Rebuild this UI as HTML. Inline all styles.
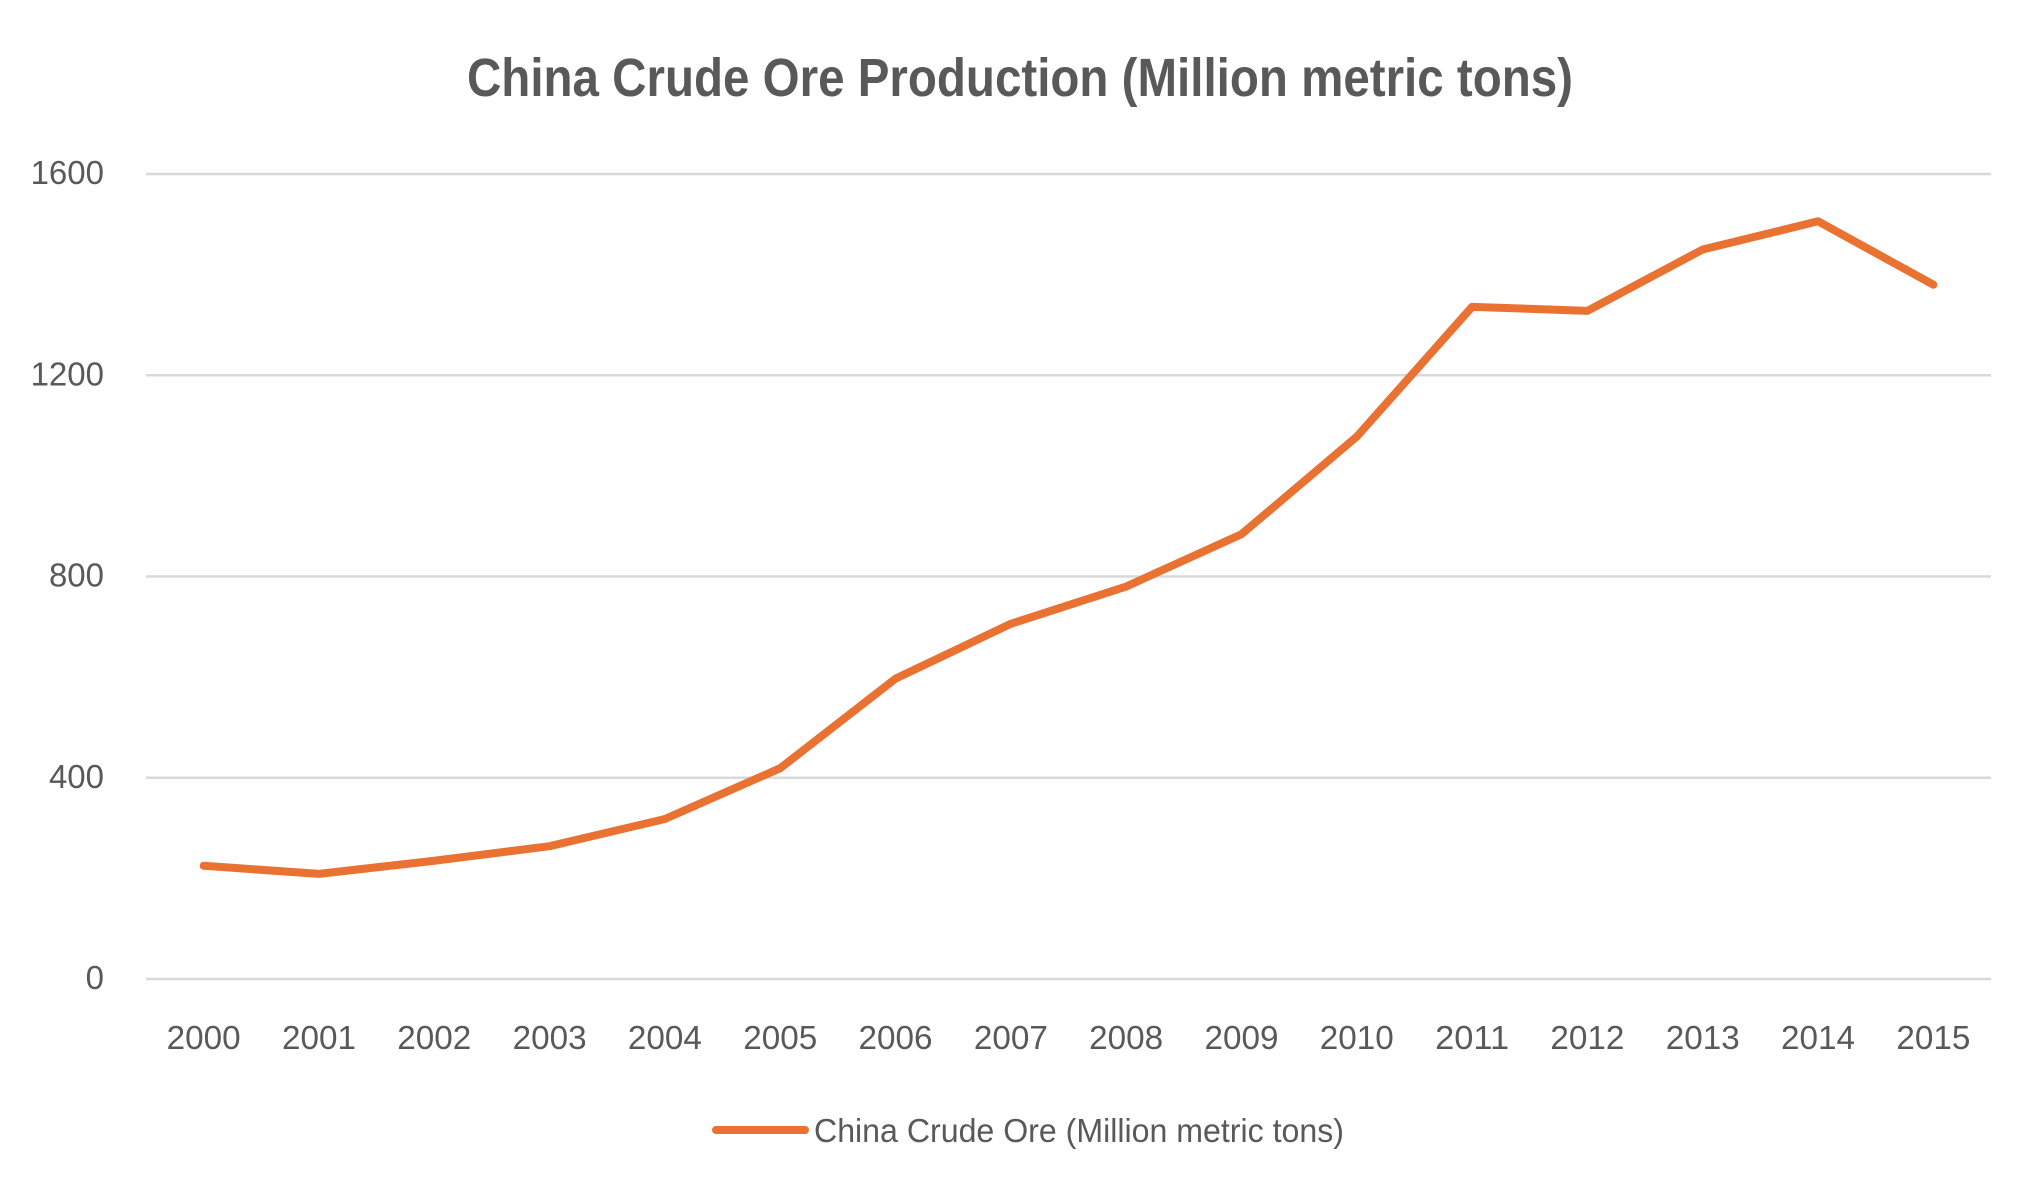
<!DOCTYPE html>
<html><head><meta charset="utf-8"><style>
html,body{margin:0;padding:0;background:#fff;}
svg{display:block;}
text{font-family:"Liberation Sans Narrow","Liberation Sans",sans-serif;fill:#595959;}
</style></head><body>
<svg id="chart" width="2039" height="1198" viewBox="0 0 2039 1198" xmlns="http://www.w3.org/2000/svg">
<text x="1020" y="96" text-anchor="middle" font-size="54" font-weight="bold" textLength="1106" lengthAdjust="spacingAndGlyphs">China Crude Ore Production (Million metric tons)</text>
<g id="grid"></g><g id="yticks"></g><g id="xticks"></g><g id="series"></g>
<line x1="716" y1="1130" x2="805" y2="1130" stroke="#E97132" stroke-width="8" stroke-linecap="round"/>
<text x="814" y="1142" font-size="33" textLength="530" lengthAdjust="spacingAndGlyphs">China Crude Ore (Million metric tons)</text>
</svg>
<script>
const categories=["2000","2001","2002","2003","2004","2005","2006","2007","2008","2009","2010","2011","2012","2013","2014","2015"];
const values=[225,209,235,264,318,419,597,706,780,884,1078,1336,1328,1450,1506,1380];
const yTicks=[0,400,800,1200,1600];
const NS="http://www.w3.org/2000/svg";
const L=146,R=1991,T=174,B=979,yMax=1600;
const bw=(R-L)/categories.length;
const xs=i=>L+bw*(i+0.5);
const ys=v=>B-(v/yMax)*(B-T);
function mk(tag,attrs,parent){const e=document.createElementNS(NS,tag);for(const k in attrs)e.setAttribute(k,attrs[k]);parent.appendChild(e);return e;}
const grid=document.getElementById('grid'),yt=document.getElementById('yticks'),xt=document.getElementById('xticks'),se=document.getElementById('series');
yTicks.forEach(v=>{
 const g=mk('line',{x1:L,x2:R,y1:ys(v),y2:ys(v),stroke:'#d9d9d9','stroke-width':2.5},grid);
 
 
 const t=mk('text',{x:104,y:ys(v)+10,'text-anchor':'end','font-size':33},yt);
 t.textContent=v;
 
 
});
categories.forEach((c,i)=>{
 const t=mk('text',{x:xs(i),y:1049,'text-anchor':'middle','font-size':33,textLength:74,lengthAdjust:'spacingAndGlyphs'},xt);
 t.textContent=c;
 
 
});
const p=mk('polyline',{points:values.map((v,i)=>xs(i)+','+ys(v)).join(' '),fill:'none',stroke:'#E97132','stroke-width':8,'stroke-linecap':'round','stroke-linejoin':'round'},se);


</script>
</body></html>
